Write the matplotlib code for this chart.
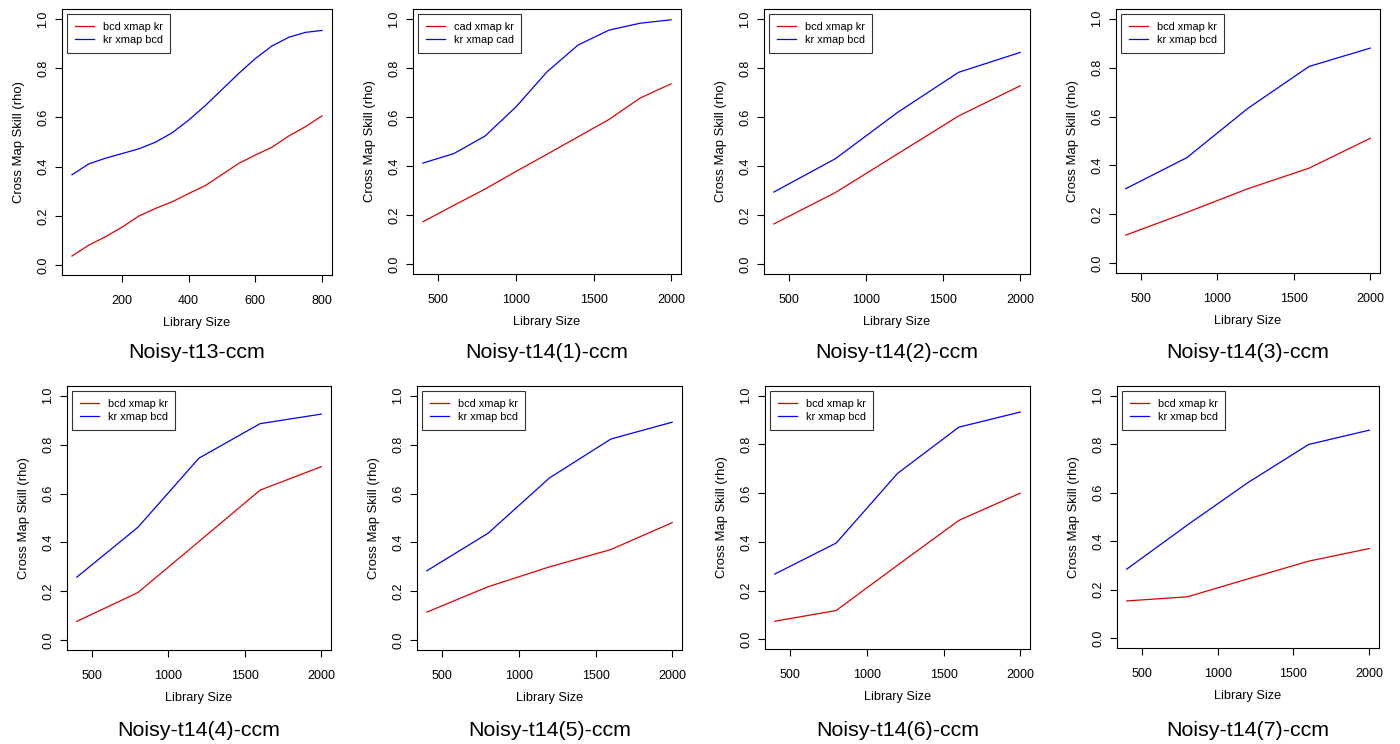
import matplotlib
matplotlib.use("Agg")
import matplotlib.pyplot as plt

plt.rcParams['font.family'] = ['Liberation Sans', 'DejaVu Sans']

# ---- data ----
lib_t13 = [50, 100, 150, 200, 250, 300, 350, 400, 450, 500, 550, 600, 650, 700, 750, 800]
t13_red = [0.037, 0.081, 0.115, 0.154, 0.199, 0.230, 0.257, 0.291, 0.323, 0.368, 0.413, 0.447, 0.479, 0.524, 0.562, 0.606]
t13_blue = [0.367, 0.411, 0.434, 0.453, 0.472, 0.499, 0.537, 0.589, 0.648, 0.713, 0.778, 0.839, 0.890, 0.925, 0.945, 0.953]

lib_t14_1 = [400, 600, 800, 1000, 1200, 1400, 1600, 1800, 2000]
t14_1_red = [0.173, 0.240, 0.306, 0.378, 0.448, 0.519, 0.590, 0.677, 0.735]
t14_1_blue = [0.412, 0.451, 0.522, 0.641, 0.784, 0.893, 0.954, 0.982, 0.996]

lib_t14 = [400, 800, 1200, 1600, 2000]
t14_2_red = [0.164, 0.292, 0.448, 0.604, 0.727]
t14_2_blue = [0.294, 0.430, 0.617, 0.782, 0.863]
t14_3_red = [0.115, 0.208, 0.305, 0.389, 0.511]
t14_3_blue = [0.305, 0.432, 0.634, 0.805, 0.880]
t14_4_red = [0.077, 0.195, 0.404, 0.614, 0.710]
t14_4_blue = [0.258, 0.462, 0.745, 0.886, 0.925]
t14_5_red = [0.115, 0.219, 0.300, 0.371, 0.481]
t14_5_blue = [0.284, 0.438, 0.664, 0.823, 0.892]
t14_6_red = [0.074, 0.118, 0.304, 0.488, 0.600]
t14_6_blue = [0.268, 0.395, 0.681, 0.871, 0.933]
t14_7_red = [0.154, 0.171, 0.245, 0.318, 0.370]
t14_7_blue = [0.285, 0.467, 0.642, 0.799, 0.858]

titles = ["Noisy-t13-ccm", "Noisy-t14(1)-ccm", "Noisy-t14(2)-ccm", "Noisy-t14(3)-ccm",
          "Noisy-t14(4)-ccm", "Noisy-t14(5)-ccm", "Noisy-t14(6)-ccm", "Noisy-t14(7)-ccm"]
legend_red = ["bcd xmap kr", "cad xmap kr", "bcd xmap kr", "bcd xmap kr",
              "bcd xmap kr", "bcd xmap kr", "bcd xmap kr", "bcd xmap kr"]
legend_blue = ["kr xmap bcd", "kr xmap cad", "kr xmap bcd", "kr xmap bcd",
               "kr xmap bcd", "kr xmap bcd", "kr xmap bcd", "kr xmap bcd"]

panels = [
    (lib_t13, t13_red, t13_blue),
    (lib_t14_1, t14_1_red, t14_1_blue),
    (lib_t14, t14_2_red, t14_2_blue),
    (lib_t14, t14_3_red, t14_3_blue),
    (lib_t14, t14_4_red, t14_4_blue),
    (lib_t14, t14_5_red, t14_5_blue),
    (lib_t14, t14_6_red, t14_6_blue),
    (lib_t14, t14_7_red, t14_7_blue),
]

# axes boxes in pixels: left, right, top, bottom
boxes = [
    (62, 332, 9, 275), (413, 681, 9, 274), (764, 1030, 9, 274), (1116, 1380, 9, 273),
    (67, 331, 386, 650), (417, 682, 386, 650), (765, 1030, 386, 649), (1117, 1379, 386, 648),
]

W, H = 1400, 744
fig = plt.figure(figsize=(W / 100, H / 100), dpi=100)

for i, ((x, r, b), (l, rt, t, bt)) in enumerate(zip(panels, boxes)):
    ax = fig.add_axes([l / W, 1 - bt / H, (rt - l) / W, (bt - t) / H])
    ax.plot(x, r, color='#e00000', lw=0.9, label=legend_red[i])
    ax.plot(x, b, color='#0000ff', lw=0.9, label=legend_blue[i])
    span = x[-1] - x[0]
    ax.set_xlim(x[0] - 0.04 * span, x[-1] + 0.04 * span)
    ax.set_ylim(-0.04, 1.04)
    ax.set_yticks([0.0, 0.2, 0.4, 0.6, 0.8, 1.0])
    ax.set_yticklabels(["0.0", "0.2", "0.4", "0.6", "0.8", "1.0"], rotation=90, va='center')
    if i == 0:
        ax.set_xticks([200, 400, 600, 800])
    else:
        ax.set_xticks([500, 1000, 1500, 2000])
    ax.tick_params(direction='out', length=5.3, width=0.8, labelsize=9)
    ax.tick_params(axis='x', pad=9)
    ax.tick_params(axis='y', pad=4)
    for s in ax.spines.values():
        s.set_linewidth(0.8)
    ax.set_xlabel("Library Size", fontsize=9.2, labelpad=7.5)
    ax.set_ylabel("Cross Map Skill (rho)", fontsize=9.4, labelpad=9)
    leg = ax.legend(loc='upper left', fontsize=7.9, frameon=True, fancybox=False,
                    edgecolor='black', borderaxespad=0.5, handlelength=1.75,
                    borderpad=0.7, labelspacing=0.25, handletextpad=0.75)
    leg.get_frame().set_linewidth(0.8)
    ty = 352 if i < 4 else 730
    fig.text((l + rt) / 2 / W, 1 - ty / H, titles[i], ha='center', va='center', fontsize=15.4)

fig.savefig("out.png", dpi=100)
